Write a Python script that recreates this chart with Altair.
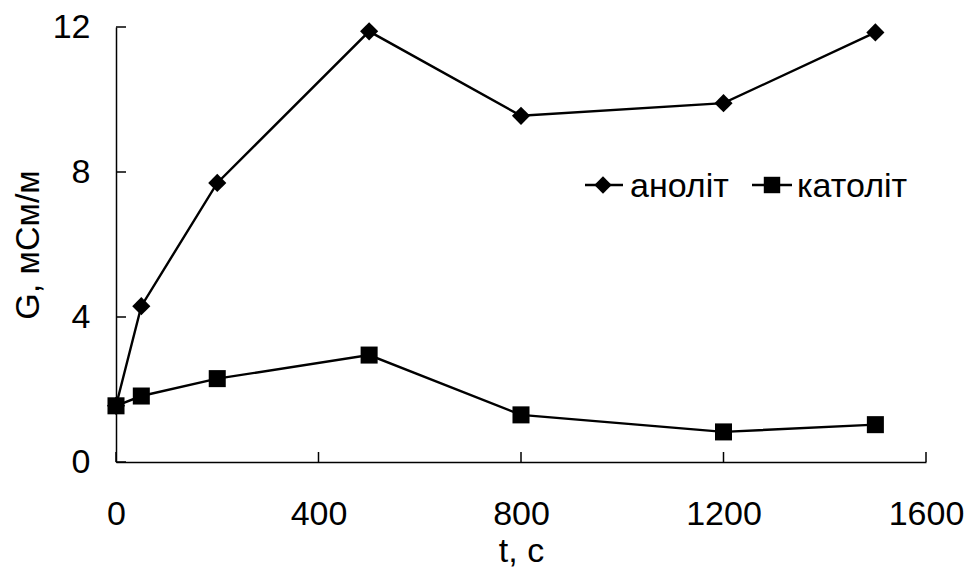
import altair as alt
import pandas as pd

# ---- data ----
t_s = [0, 50, 200, 500, 800, 1200, 1500]
anolyte = [1.55, 4.3, 7.7, 11.88, 9.55, 9.9, 11.85]
catholyte = [1.55, 1.82, 2.3, 2.95, 1.3, 0.83, 1.03]
series_names = ["аноліт", "католіт"]
series_shapes = ["diamond", "square"]
x_ticks = [0, 400, 800, 1200, 1600]
y_ticks = [0, 4, 8, 12]

FONT = "Arial, Liberation Sans"
W, H = 810, 435

rows = []
for name, vals in zip(series_names, [anolyte, catholyte]):
    for t, v in zip(t_s, vals):
        rows.append({"t": t, "G": v, "series": name})
df = pd.DataFrame(rows)

xs = alt.Scale(domain=[0, 1600], nice=False, zero=False)
ys = alt.Scale(domain=[0, 12], nice=False, zero=False)

x_axis = alt.Axis(
    values=x_ticks, format="d", ticks=False, tickSize=0, grid=False,
    domainColor="black", domainWidth=1.5,
    labelFont=FONT, labelFontSize=34, labelColor="black", labelPadding=35,
    labelFlush=False, labelOverlap=False,
    title="t, c", titleFont=FONT, titleFontSize=34, titleFontWeight="normal",
    titleColor="black", titleX=W / 2, titleY=99, titleBaseline="alphabetic",
    titleAlign="center",
)
y_axis = alt.Axis(
    values=y_ticks, format="d", ticks=False, tickSize=0, grid=False,
    domainColor="black", domainWidth=1.5,
    labelFont=FONT, labelFontSize=34, labelColor="black", labelPadding=26,
    labelFlush=False, labelOverlap=False,
    title="G, мСм/м", titleFont=FONT, titleFontSize=34, titleFontWeight="normal",
    titleColor="black", titleX=-78, titleY=H / 2, titleBaseline="alphabetic",
    titleAlign="center", titleAngle=-90,
)

base = alt.Chart(df)
lines = base.mark_line(color="black", strokeWidth=2.4).encode(
    x=alt.X("t:Q", scale=xs, axis=x_axis),
    y=alt.Y("G:Q", scale=ys, axis=y_axis),
    detail="series:N",
)
points = base.mark_point(filled=True, color="black", opacity=1).encode(
    x=alt.X("t:Q", scale=xs, axis=x_axis),
    y=alt.Y("G:Q", scale=ys, axis=y_axis),
    shape=alt.Shape("series:N", scale=alt.Scale(domain=series_names, range=series_shapes), legend=None),
    size=alt.Size("series:N", scale=alt.Scale(domain=series_names, range=[330, 290]), legend=None),
)

# inward tick marks
y_tick_marks = alt.Chart(pd.DataFrame({"v": y_ticks})).mark_rule(color="black", strokeWidth=1.5).encode(
    y=alt.Y("v:Q", scale=ys, axis=y_axis), x=alt.value(0), x2=alt.value(10)
)
x_tick_marks = alt.Chart(pd.DataFrame({"v": x_ticks})).mark_rule(color="black", strokeWidth=1.5).encode(
    x=alt.X("v:Q", scale=xs, axis=x_axis), y=alt.value(H), y2=alt.value(H - 10)
)

# manual legend
legend_layers = []
leg_pos = [(469, 507, 487, 514), (636, 676, 656, 681)]
leg_sizes = [300, 270]
for name, shp, sz, (lx0, lx1, cx, tx) in zip(series_names, series_shapes, leg_sizes, leg_pos):
    ldf = pd.DataFrame({"series": [name]})
    lc = alt.Chart(ldf)
    legend_layers.append(
        lc.mark_rule(color="black", strokeWidth=2.4).encode(
            x=alt.value(lx0), x2=alt.value(lx1), y=alt.value(158)
        )
    )
    legend_layers.append(
        lc.mark_point(filled=True, color="black", opacity=1).encode(
            x=alt.value(cx), y=alt.value(158), shape=alt.value(shp), size=alt.value(sz)
        )
    )
    legend_layers.append(
        lc.mark_text(align="left", baseline="alphabetic", font=FONT, fontSize=34, color="black").encode(
            x=alt.value(tx), y=alt.value(170), text=alt.Text("series:N")
        )
    )

chart = alt.layer(lines, points, y_tick_marks, x_tick_marks, *legend_layers).properties(
    width=W, height=H,
    padding={"left": 116, "top": 27, "right": 41, "bottom": 105},
    autosize="none", background="white",
).configure_view(stroke=None)

chart.save("out.html", embed_options={"renderer": "svg", "actions": False})
